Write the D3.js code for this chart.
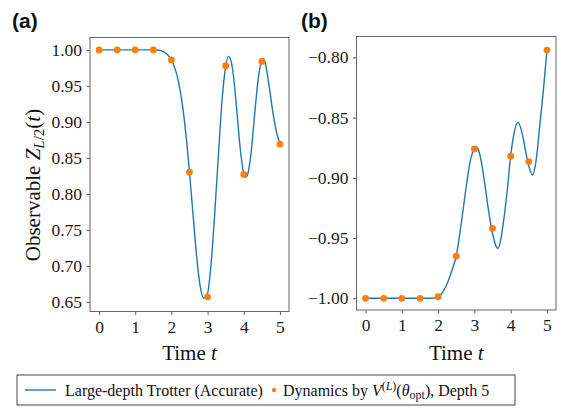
<!DOCTYPE html>
<html><head><meta charset="utf-8">
<script src="https://cdn.jsdelivr.net/npm/d3@7"></script>
<style>body{margin:0;background:#fff}svg{display:block}</style>
</head><body>
<script>
// ---- data ----
const dotTimes = [0, 0.5, 1, 1.5, 2, 2.5, 3, 3.5, 4, 4.5, 5];
const dotsA = [1.0, 1.0, 1.0, 1.0, 0.986, 0.830, 0.657, 0.978, 0.827, 0.984, 0.869];
const dotsB = [-1.0, -1.0, -1.0, -1.0, -0.9987, -0.965, -0.876, -0.942, -0.882, -0.8865, -0.794];

const lineTimesA = [0, 0.5, 1, 1.5, 1.6, 1.7, 1.8, 1.9, 2.0, 2.1, 2.2, 2.3, 2.4, 2.5, 2.6, 2.7, 2.8, 2.9, 3.0, 3.1, 3.2, 3.3, 3.4, 3.5, 3.58, 3.65, 3.7, 3.8, 3.9, 4.0, 4.05, 4.1, 4.2, 4.3, 4.4, 4.5, 4.55, 4.6, 4.7, 4.8, 4.9, 5.0];
const lineA = [1.0, 1.0, 1.0, 1.0, 0.9998, 0.999, 0.997, 0.993, 0.986, 0.974, 0.955, 0.925, 0.883, 0.830, 0.770, 0.712, 0.670, 0.655, 0.662, 0.705, 0.775, 0.855, 0.930, 0.977, 0.991, 0.984, 0.970, 0.920, 0.864, 0.828, 0.823, 0.826, 0.856, 0.910, 0.960, 0.985, 0.988, 0.980, 0.950, 0.915, 0.887, 0.869];

const lineTimesB = [0, 0.5, 1, 1.5, 1.8, 1.9, 2.0, 2.1, 2.2, 2.3, 2.4, 2.5, 2.6, 2.7, 2.8, 2.9, 3.0, 3.05, 3.1, 3.2, 3.3, 3.4, 3.5, 3.6, 3.65, 3.7, 3.8, 3.9, 4.0, 4.1, 4.2, 4.3, 4.4, 4.5, 4.6, 4.7, 4.8, 4.9, 5.0];
const lineB = [-1.0, -1.0, -1.0, -1.0, -1.0, -0.9997, -0.9987, -0.996, -0.991, -0.984, -0.975, -0.965, -0.946, -0.924, -0.902, -0.884, -0.876, -0.874, -0.876, -0.888, -0.908, -0.929, -0.946, -0.957, -0.9585, -0.955, -0.937, -0.912, -0.882, -0.862, -0.854, -0.861, -0.876, -0.890, -0.8976, -0.886, -0.8575, -0.828, -0.794];

const xTicks = [0, 1, 2, 3, 4, 5];
const yTicksA = [0.65, 0.70, 0.75, 0.80, 0.85, 0.90, 0.95, 1.00];
const yTicksB = [-1.00, -0.95, -0.90, -0.85, -0.80];
const panelLabels = ["(a)", "(b)"];
const legendLine = "Large-depth Trotter (Accurate)";

const W = 561, H = 418;
const svg = d3.select("body").append("svg").attr("width", W).attr("height", H);
const serif = "'Liberation Serif', 'Times New Roman', serif";
const blue = "#1f77b4", orange = "#ff7f0e";

function panel(cfg) {
  const x = d3.scaleLinear().domain([-0.25, 5.25]).range([cfg.left, cfg.right]);
  const y = d3.scaleLinear().domain(cfg.ydom).range([cfg.bottom, cfg.top]);
  const g = svg.append("g");
  // axes
  const xa = g.append("g").attr("transform", `translate(0,${cfg.bottom})`)
    .call(d3.axisBottom(x).tickValues(xTicks).tickFormat(d3.format("d")).tickSize(3.5).tickPadding(3.5));
  const ya = g.append("g").attr("transform", `translate(${cfg.left},0)`)
    .call(d3.axisLeft(y).tickValues(cfg.yticks).tickFormat(d3.format(".2f")).tickSize(3.5).tickPadding(4.5));
  [xa, ya].forEach(a => {
    a.select(".domain").remove();
    a.selectAll(".tick line").attr("stroke", "#333").attr("stroke-width", 0.8);
    a.selectAll(".tick text").style("font-family", serif).attr("font-size", 17.5).attr("fill", "#1a1a1a");
  });
  xa.selectAll(".tick text").attr("dy", "0.8em");
  // frame
  g.append("rect").attr("x", cfg.left).attr("y", cfg.top)
    .attr("width", cfg.right - cfg.left).attr("height", cfg.bottom - cfg.top)
    .attr("fill", "none").attr("stroke", "#555").attr("stroke-width", 0.9);
  // line
  const pts = cfg.lt.map((t, i) => [t, cfg.lv[i]]);
  g.append("path").datum(pts)
    .attr("d", d3.line().x(d => x(d[0])).y(d => y(d[1])).curve(d3.curveMonotoneX))
    .attr("fill", "none").attr("stroke", blue).attr("stroke-width", 1.4);
  // dots
  g.selectAll("circle.dot").data(dotTimes.map((t, i) => [t, cfg.dv[i]])).enter()
    .append("circle").attr("cx", d => x(d[0])).attr("cy", d => y(d[1]))
    .attr("r", 3.4).attr("fill", orange);
  // x label
  const xl = g.append("text").attr("x", (cfg.left + cfg.right) / 2).attr("y", 360)
    .attr("text-anchor", "middle").style("font-family", serif).attr("font-size", 21).attr("fill", "#111");
  xl.append("tspan").text("Time ");
  xl.append("tspan").attr("font-style", "italic").text("t");
  // panel label
  g.append("text").attr("x", cfg.labelX).attr("y", 28).style("font-family", "'Liberation Sans', Arial, sans-serif")
    .attr("font-weight", "bold").attr("font-size", 21).attr("fill", "#111").text(cfg.label);
}

panel({left: 90, right: 289, top: 37.5, bottom: 311.5, ydom: [0.6366, 1.0172],
  yticks: yTicksA, lt: lineTimesA, lv: lineA, dv: dotsA, label: panelLabels[0], labelX: 12});
panel({left: 356.5, right: 556, top: 36.5, bottom: 310, ydom: [-1.0097, -0.7827],
  yticks: yTicksB, lt: lineTimesB, lv: lineB, dv: dotsB, label: panelLabels[1], labelX: 301});

// y label
const yl = svg.append("text").attr("transform", "translate(40,185) rotate(-90)")
  .attr("text-anchor", "middle").style("font-family", serif).attr("font-size", 21).attr("fill", "#111");
yl.append("tspan").text("Observable ");
yl.append("tspan").attr("font-style", "italic").text("Z");
yl.append("tspan").attr("font-size", 15).attr("dy", 4).attr("font-style", "italic").text("L");
yl.append("tspan").attr("font-size", 15).text("/2");
yl.append("tspan").attr("dy", -4).text("(");
yl.append("tspan").attr("font-style", "italic").text("t");
yl.append("tspan").text(")");

// legend
const lg = svg.append("g");
lg.append("rect").attr("x", 17).attr("y", 375).attr("width", 498).attr("height", 30)
  .attr("fill", "#fff").attr("stroke", "#333").attr("stroke-width", 0.9);
lg.append("line").attr("x1", 25).attr("x2", 56).attr("y1", 390).attr("y2", 390)
  .attr("stroke", blue).attr("stroke-width", 1.4);
lg.append("text").attr("x", 65).attr("y", 395.5).style("font-family", serif).attr("font-size", 16)
  .attr("fill", "#111").text(legendLine);
lg.append("circle").attr("cx", 274).attr("cy", 390).attr("r", 2.2).attr("fill", orange);
const lt2 = lg.append("text").attr("x", 283).attr("y", 395.5).style("font-family", serif)
  .attr("font-size", 16).attr("fill", "#111");
lt2.append("tspan").text("Dynamics by ");
lt2.append("tspan").attr("font-style", "italic").text("V");
lt2.append("tspan").attr("font-size", 12).attr("dy", -6).text("(");
lt2.append("tspan").attr("font-size", 12).attr("font-style", "italic").text("L");
lt2.append("tspan").attr("font-size", 12).text(")");
lt2.append("tspan").attr("dy", 6).text("(");
lt2.append("tspan").attr("font-style", "italic").text("θ");
lt2.append("tspan").attr("font-size", 12).attr("dy", 3).text("opt");
lt2.append("tspan").attr("dy", -3).text("), Depth 5");
</script>
</body></html>
